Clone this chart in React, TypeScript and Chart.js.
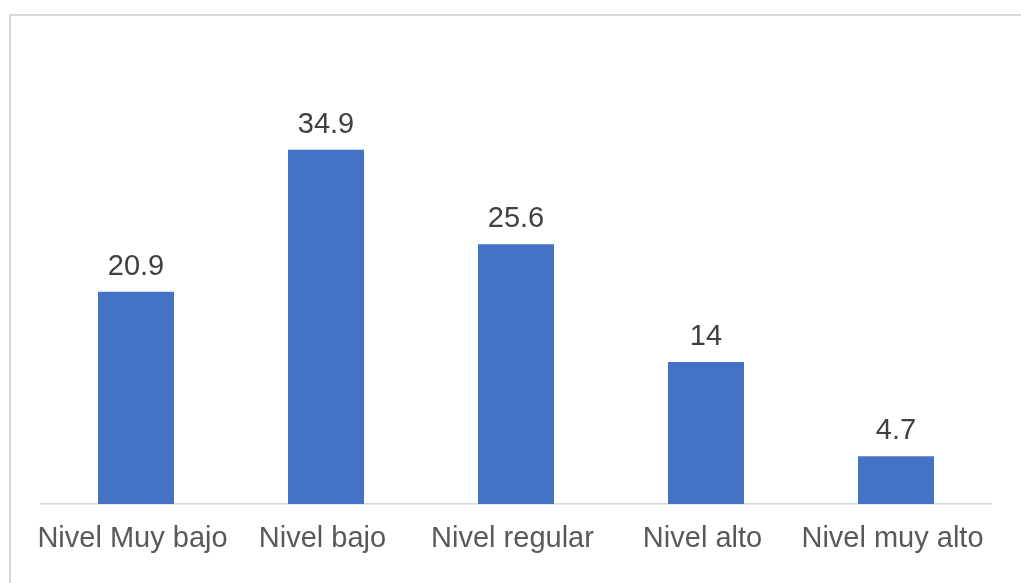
import React, { useEffect, useRef } from "react";
import { Chart, registerables } from "chart.js";

Chart.register(...registerables);

const categories = ["Nivel Muy bajo", "Nivel bajo", "Nivel regular", "Nivel alto", "Nivel muy alto"];
const values = [20.9, 34.9, 25.6, 14, 4.7];
const valueLabels = ["20.9", "34.9", "25.6", "14", "4.7"];

const FONT = "'Liberation Sans', Arial, sans-serif";

const frameAndLabels = {
  id: "frameAndLabels",
  beforeDraw(chart: any) {
    const ctx = chart.ctx;
    ctx.save();
    ctx.strokeStyle = "#d9d9d9";
    ctx.lineWidth = 2;
    ctx.strokeRect(10, 15, 1100, 700);
    ctx.restore();
  },
  afterDatasetsDraw(chart: any) {
    const ctx = chart.ctx;
    const meta = chart.getDatasetMeta(0);
    ctx.save();
    ctx.fillStyle = "#404040";
    ctx.font = `29px ${FONT}`;
    ctx.textAlign = "center";
    ctx.textBaseline = "alphabetic";
    meta.data.forEach((bar: any, i: number) => {
      ctx.fillText(valueLabels[i], bar.x, bar.y - 17);
    });
    ctx.restore();
  },
};

export default function App() {
  const ref = useRef<HTMLCanvasElement>(null);
  useEffect(() => {
    if (!ref.current) return;
    const chart = new Chart(ref.current, {
      type: "bar",
      data: {
        labels: categories,
        datasets: [
          {
            data: values,
            backgroundColor: "#4472C4",
            barPercentage: 0.4,
            categoryPercentage: 1,
          },
        ],
      },
      options: {
        animation: false,
        responsive: false,
        maintainAspectRatio: false,
        layout: { padding: { left: 41, right: 30, top: 98, bottom: 0 } },
        plugins: { legend: { display: false }, tooltip: { enabled: false } },
        scales: {
          x: {
            grid: { display: false, drawTicks: false },
            border: { display: true, color: "#d9d9d9", width: 1.5 },
            ticks: {
              color: "#595959",
              font: { family: FONT, size: 29 },
              padding: 18,
              labelOffset: -3.5,
              maxRotation: 0,
              autoSkip: false,
            },
            afterFit(scale: any) {
              scale.height = 79;
            },
          },
          y: {
            display: false,
            min: 0,
            max: 40,
          },
        },
      },
      plugins: [frameAndLabels],
    });
    return () => chart.destroy();
  }, []);
  return (
    <div style={{ position: "fixed", left: 0, top: 0, width: 1021, height: 583, background: "#fff" }}>
      <canvas ref={ref} width={1021} height={583} style={{ display: "block" }} />
    </div>
  );
}
